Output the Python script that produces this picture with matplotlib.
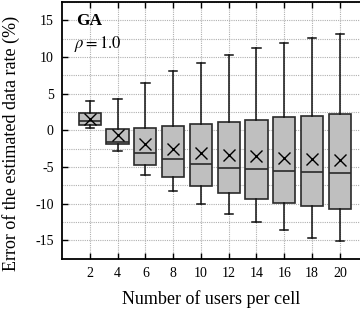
import matplotlib
matplotlib.use("Agg")
import matplotlib.pyplot as plt
from matplotlib.ticker import MultipleLocator

users = [2, 4, 6, 8, 10, 12, 14, 16, 18, 20]
whisk_lo = [0.3, -2.83, -6.15, -8.3, -10.07, -11.4, -12.5, -13.66, -14.67, -15.1]
q1 = [0.68, -1.9, -4.74, -6.4, -7.65, -8.6, -9.34, -9.97, -10.3, -10.7]
medians = [1.27, -1.6, -3.06, -3.96, -4.64, -5.1, -5.33, -5.5, -5.7, -5.79]
q3 = [2.3, 0.18, 0.36, 0.55, 0.9, 1.18, 1.45, 1.78, 1.95, 2.19]
whisk_hi = [4.0, 4.3, 6.5, 8.06, 9.15, 10.33, 11.2, 11.97, 12.57, 13.2]
means = [1.6, -0.68, -1.9, -2.6, -3.14, -3.37, -3.55, -3.74, -3.96, -4.0]

plt.rcParams['font.family'] = ['Liberation Serif', 'DejaVu Serif']
plt.rcParams['mathtext.fontset'] = 'stix'

fig = plt.figure(figsize=(3.6, 3.14), dpi=100)
ax = fig.add_axes([62/360, 1-259/314, 298/360, 257/314])

stats = []
for i in range(len(users)):
    stats.append(dict(med=medians[i], q1=q1[i], q3=q3[i], whislo=whisk_lo[i],
                      whishi=whisk_hi[i], mean=means[i], fliers=[]))

ax.bxp(stats, positions=users, widths=1.6, patch_artist=True, showmeans=True,
       boxprops=dict(facecolor='#bfbfbf', edgecolor='#2a2a2a', linewidth=1.2),
       medianprops=dict(color='#2a2a2a', linewidth=1.2),
       whiskerprops=dict(color='#111111', linewidth=1.1),
       capprops=dict(color='#111111', linewidth=1.1),
       capwidths=0.6,
       meanprops=dict(marker='x', markeredgecolor='black', markersize=8.5, markeredgewidth=1.0),
       zorder=3)

ax.set_xlim(0, 21.45)
ax.set_ylim(-17.55, 17.5)
ax.set_xticks(users)
ax.set_xticklabels([str(u) for u in users])
ax.yaxis.set_minor_locator(MultipleLocator(2.5))
ax.set_yticks([15, 10, 5, 0, -5, -10, -15])
ax.set_yticklabels(['15', '10', '5', '0', '-5', '-10', '-15'])
ax.grid(True, which='both', axis='y', linestyle=(0, (1, 1)), color='#b0b0b0', linewidth=0.8, zorder=0)
ax.grid(True, which='major', axis='x', linestyle=(0, (1, 1)), color='#b0b0b0', linewidth=0.8, zorder=0)
ax.tick_params(axis='both', which='major', direction='in', top=True, right=False,
               labelsize=10, length=4, width=1, pad=6)
ax.tick_params(axis='both', which='minor', direction='in', length=0)
ax.spines['right'].set_visible(False)
for s in ['left', 'top', 'bottom']:
    ax.spines[s].set_linewidth(1.3)
ax.set_axisbelow(True)

ax.set_xlabel('Number of users per cell', fontsize=13, labelpad=7)
ax.set_ylabel('Error of the estimated data rate (%)', fontsize=13)
ax.yaxis.set_label_coords(-0.141, 0.451)

ax.text(0.047, 0.927, 'GA', transform=ax.transAxes, fontsize=12.5, fontweight='bold',
        va='center', ha='left')
ax.text(0.040, 0.838, r'$\rho = 1.0$', transform=ax.transAxes, fontsize=12,
        va='center', ha='left')

fig.savefig('out.png', dpi=100)
